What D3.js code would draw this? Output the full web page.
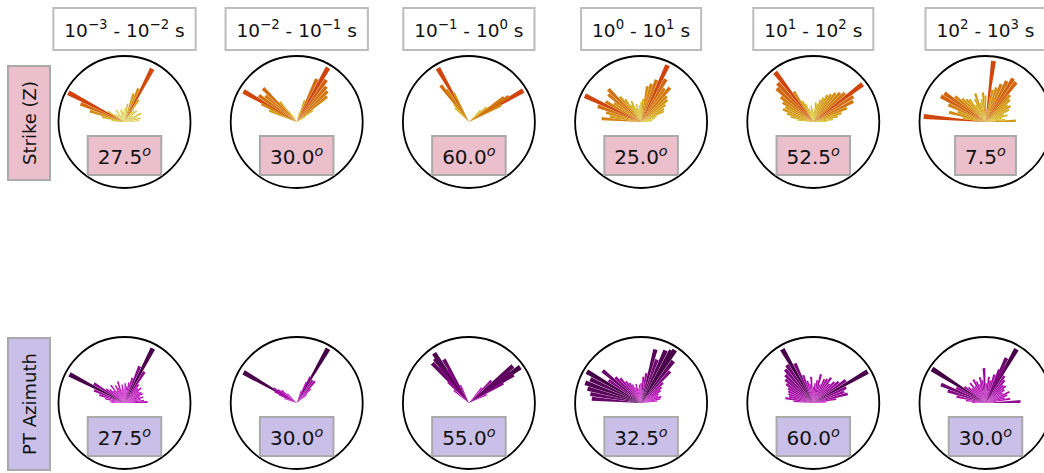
<!DOCTYPE html>
<html>
<head>
<meta charset="utf-8">
<script src="https://cdn.jsdelivr.net/npm/d3@7"></script>
<style>
  html, body { margin: 0; padding: 0; background: #fff; }
  svg { display: block; font-family: "DejaVu Sans", sans-serif; }
</style>
</head>
<body>
<svg id="chart" width="1044" height="473"></svg>
<script>
// Period bands (exponents of 10, seconds)
const bandExponents = [[-3, -2], [-2, -1], [-1, 0], [0, 1], [1, 2], [2, 3]];

// Peak direction for each band (degrees)
const strikePeaks = [27.5, 30.0, 60.0, 25.0, 52.5, 7.5];
const ptPeaks = [27.5, 30.0, 55.0, 32.5, 60.0, 30.0];

// Rose bins per band: [direction in degrees from north, relative frequency]
const strikeRoses = [
  [[-87.5,0.15],[-82.5,0.2],[-77.5,0.35],[-72.5,0.55],[-67.5,0.72],[-62.5,0.96],[-57.5,0.3],[-50,0.18],[-42.5,0.15],[-35,0.22],[-27.5,0.12],[-20,0.18],[-12.5,0.2],[-5,0.15],[2.5,0.22],[10,0.28],[17.5,0.45],[22.5,0.55],[27.5,0.91],[32.5,0.4],[40,0.22],[47.5,0.25],[55,0.15],[62.5,0.28],[70,0.2],[77.5,0.25],[85,0.22]],
  [[-67.5,0.45],[-62.5,0.6],[-60,0.93],[-55,0.7],[-50,0.62],[-45,0.72],[-40,0.4],[-35,0.2],[-25,0.12],[15,0.15],[20,0.35],[25,0.72],[30,0.95],[35,0.78],[40,0.7],[45,0.66],[50,0.6],[55,0.3],[60,0.15]],
  [[-45,0.3],[-40,0.35],[-37.5,0.7],[-35,0.6],[-30,0.94],[-27.5,0.5],[45,0.25],[50,0.35],[55,0.65],[57.5,0.72],[60,0.95],[62.5,0.55]],
  [[-85,0.6],[-80,0.48],[-75,0.55],[-70,0.7],[-65,0.94],[-60,0.62],[-55,0.5],[-50,0.65],[-45,0.7],[-40,0.5],[-35,0.42],[-30,0.3],[-25,0.35],[-20,0.22],[-15,0.28],[-10,0.2],[-5,0.25],[0,0.3],[5,0.35],[10,0.55],[15,0.6],[20,0.68],[25,0.95],[30,0.75],[35,0.62],[40,0.68],[45,0.55],[50,0.52],[55,0.45],[60,0.4],[65,0.38],[70,0.25],[75,0.22],[80,0.18],[85,0.15]],
  [[-82.5,0.25],[-77.5,0.35],[-72.5,0.42],[-67.5,0.5],[-62.5,0.48],[-57.5,0.55],[-52.5,0.62],[-47.5,0.75],[-42.5,0.8],[-37.5,0.95],[-32.5,0.55],[-27.5,0.36],[-22.5,0.3],[-17.5,0.22],[-12.5,0.18],[-7.5,0.25],[-2.5,0.2],[2.5,0.15],[7.5,0.3],[12.5,0.28],[17.5,0.35],[22.5,0.4],[27.5,0.46],[32.5,0.5],[37.5,0.55],[42.5,0.6],[47.5,0.65],[52.5,0.94],[57.5,0.72],[62.5,0.68],[67.5,0.55],[72.5,0.45],[77.5,0.38],[82.5,0.3],[87.5,0.2]],
  [[-85,0.94],[-80,0.35],[-75,0.57],[-70,0.45],[-65,0.62],[-60,0.78],[-55,0.76],[-50,0.6],[-45,0.5],[-40,0.45],[-35,0.42],[-30,0.3],[-25,0.38],[-20,0.46],[-15,0.3],[-10,0.35],[-5,0.45],[0,0.4],[7.5,0.93],[12.5,0.5],[17.5,0.55],[22.5,0.62],[27.5,0.7],[32.5,0.78],[37.5,0.76],[42.5,0.55],[47.5,0.5],[52.5,0.42],[57.5,0.45],[62.5,0.4],[67.5,0.3],[72.5,0.35],[77.5,0.25],[82.5,0.3],[87.5,0.46]]
];

const ptRoses = [
  [[-87.5,0.2],[-82.5,0.23],[-77.5,0.3],[-72.5,0.4],[-67.5,0.5],[-62.5,0.94],[-57.5,0.55],[-52.5,0.35],[-47.5,0.3],[-42.5,0.25],[-37.5,0.34],[-32.5,0.22],[-27.5,0.3],[-22.5,0.25],[-17.5,0.34],[-12.5,0.2],[-7.5,0.28],[-2.5,0.22],[2.5,0.3],[7.5,0.25],[12.5,0.32],[17.5,0.4],[22.5,0.6],[27.5,0.93],[32.5,0.56],[37.5,0.35],[42.5,0.3],[47.5,0.34],[52.5,0.28],[57.5,0.3],[62.5,0.31],[67.5,0.25],[72.5,0.3],[77.5,0.25],[82.5,0.3],[87.5,0.35]],
  [[-70,0.2],[-65,0.3],[-62.5,0.38],[-60,0.93],[-57.5,0.42],[-55,0.35],[-50,0.3],[-45,0.2],[20,0.2],[25,0.35],[27.5,0.45],[30,0.95],[35,0.42],[40,0.43],[45,0.3],[50,0.2]],
  [[-50,0.3],[-45,0.45],[-42.5,0.82],[-40,0.7],[-37.5,0.85],[-35,0.92],[-32.5,0.6],[-30,0.76],[-25,0.3],[40,0.3],[45,0.48],[50,0.87],[52.5,0.78],[55,0.95],[57.5,0.8],[60,0.6],[65,0.3]],
  [[-85,0.75],[-80,0.78],[-75,0.84],[-70,0.9],[-65,0.85],[-60,0.95],[-55,0.6],[-50,0.76],[-45,0.55],[-40,0.49],[-35,0.4],[-30,0.35],[-25,0.31],[-20,0.25],[-15,0.3],[-10,0.22],[-5,0.28],[0,0.3],[5,0.4],[10,0.46],[15,0.84],[20,0.7],[25,0.88],[30,0.92],[32.5,0.95],[37.5,0.8],[42.5,0.65],[47.5,0.45],[52.5,0.39],[57.5,0.35],[62.5,0.3],[67.5,0.28],[72.5,0.32],[77.5,0.3],[82.5,0.25]],
  [[-85,0.3],[-80,0.43],[-75,0.38],[-70,0.4],[-65,0.42],[-60,0.44],[-55,0.5],[-50,0.55],[-45,0.6],[-40,0.66],[-35,0.7],[-30,0.94],[-25,0.66],[-20,0.45],[-15,0.35],[-10,0.3],[-5,0.4],[0,0.25],[5,0.3],[10,0.35],[15,0.45],[20,0.3],[25,0.4],[30,0.42],[35,0.47],[40,0.38],[45,0.45],[50,0.5],[55,0.6],[60,0.95],[65,0.55],[70,0.5],[75,0.54],[80,0.35],[85,0.2]],
  [[-87.5,0.2],[-82.5,0.3],[-77.5,0.45],[-72.5,0.6],[-67.5,0.73],[-62.5,0.5],[-57.5,0.96],[-52.5,0.4],[-47.5,0.35],[-42.5,0.3],[-37.5,0.38],[-32.5,0.3],[-27.5,0.4],[-22.5,0.35],[-17.5,0.3],[-12.5,0.4],[-7.5,0.35],[-2.5,0.53],[2.5,0.3],[7.5,0.4],[12.5,0.35],[17.5,0.45],[22.5,0.55],[25,0.75],[27.5,0.63],[30,0.94],[35,0.5],[40,0.45],[45,0.38],[50,0.4],[55,0.35],[60,0.3],[65,0.4],[70,0.35],[75,0.3],[80,0.38],[87.5,0.53]]
];

const rowLabels = ["Strike (Z)", "PT Azimuth"];

// ---- layout ----
const svg = d3.select("#chart");
const colX = d3.scaleLinear().domain([0, 5]).range([124.5, 985.5]);
const R = 66;
const binWidth = 4.6; // degrees
const rows = [
  { cy: 122, roses: strikeRoses, peaks: strikePeaks, fill: "#ebbfcc", label: rowLabels[0], labelBox: [8, 66, 42, 114],
    color: d3.scaleLinear().domain([0, 0.45, 1]).range(["#d0dc1c", "#d49c12", "#d03a0a"]) },
  { cy: 403, roses: ptRoses, peaks: ptPeaks, fill: "#c9bfe8", label: rowLabels[1], labelBox: [8, 338, 42, 132],
    color: d3.scaleLinear().domain([0, 0.45, 1]).range(["#ee1cee", "#a00ca0", "#3c003e"]) }
];
const rScale = d3.scaleLinear().domain([0, 1]).range([0, R]);
const arc = d3.arc().innerRadius(0);
const rad = d => d * Math.PI / 180;

// text with superscripts: parts = [[text, isSup], ...]
function richText(g, parts, size, supItalic) {
  const t = g.append("text").attr("font-size", size).attr("fill", "#111");
  parts.forEach(([s, sup], i) => {
    const ts = t.append("tspan").text(s);
    if (sup) {
      ts.attr("font-size", size * 0.72).attr("dy", -size * 0.42);
      if (supItalic) ts.attr("font-style", "italic");
    } else {
      ts.attr("dy", i > 0 && parts[i - 1][1] ? size * 0.42 : 0);
    }
  });
  return t;
}

// column headers
bandExponents.forEach(([a, b], i) => {
  const g = svg.append("g");
  const fmt = v => (v < 0 ? "\u2212" + Math.abs(v) : String(v));
  const t = richText(g, [["10", false], [fmt(a), true], [" - 10", false], [fmt(b), true], [" s", false]], 18.5);
  const bb = t.node().getBBox();
  const cx = colX(i);
  t.attr("x", cx - bb.width / 2).attr("y", 37);
  t.select("tspan").attr("x", cx - bb.width / 2);
  const w = bb.width + 22;
  g.insert("rect", "text").attr("x", cx - w / 2).attr("y", 8).attr("width", w).attr("height", 42)
    .attr("fill", "#fff").attr("stroke", "#bdbdbd").attr("stroke-width", 2);
});

rows.forEach(row => {
  // row label
  const [lx, ly, lw, lh] = row.labelBox;
  svg.append("rect").attr("x", lx).attr("y", ly).attr("width", lw).attr("height", lh)
    .attr("fill", row.fill).attr("stroke", "#aaaaaa").attr("stroke-width", 2);
  svg.append("text").attr("transform", `translate(${lx + lw / 2 + 6.5},${ly + lh / 2}) rotate(-90)`)
    .attr("text-anchor", "middle").attr("font-size", 18).attr("fill", "#111").text(row.label);

  row.roses.forEach((bins, i) => {
    const cx = colX(i);
    const g = svg.append("g").attr("transform", `translate(${cx},${row.cy})`);
    g.append("circle").attr("r", R).attr("fill", "#fff").attr("stroke", "#000").attr("stroke-width", 1.8);

    const sorted = bins.slice().sort((p, q) => q[1] - p[1]);
    g.selectAll("path.bin").data(sorted).join("path")
      .attr("class", "bin")
      .attr("d", d => arc({ outerRadius: rScale(d[1]), startAngle: rad(d[0] - binWidth / 2), endAngle: rad(d[0] + binWidth / 2) }))
      .attr("fill", d => row.color(d[1]))
      .attr("stroke", "none");

    // peak direction box
    const lg = svg.append("g");
    const t = richText(lg, [[row.peaks[i].toFixed(1), false], ["o", true]], 20, true);
    const bb = t.node().getBBox();
    t.attr("x", cx - bb.width / 2).attr("y", row.cy + 42);
    t.select("tspan").attr("x", cx - bb.width / 2);
    const w = bb.width + 20;
    lg.insert("rect", "text").attr("x", cx - w / 2).attr("y", row.cy + 14).attr("width", w).attr("height", 39)
      .attr("fill", row.fill).attr("stroke", "#aaaaaa").attr("stroke-width", 2);
  });
});
</script>
</body>
</html>
